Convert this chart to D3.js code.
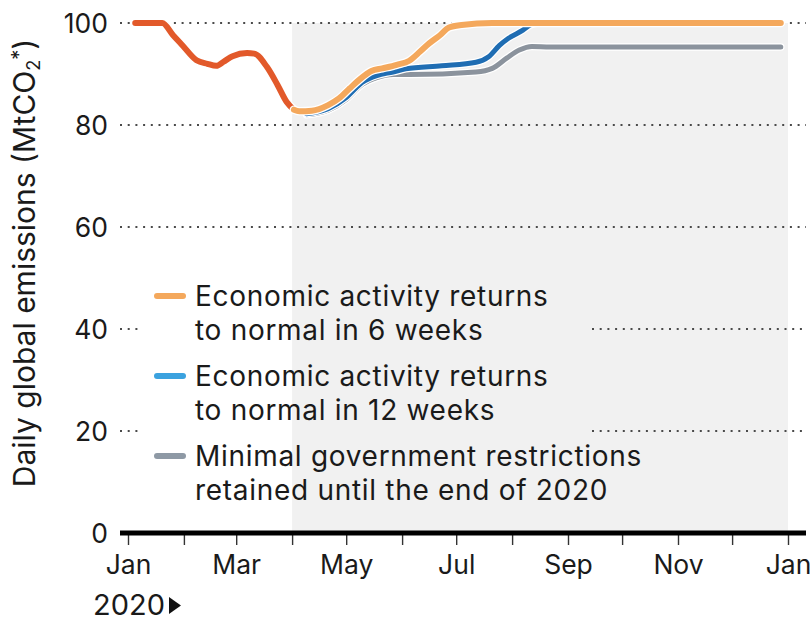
<!DOCTYPE html>
<html>
<head>
<meta charset="utf-8">
<script src="https://cdn.jsdelivr.net/npm/d3@7"></script>
<style>
  body { margin: 0; background: #fff; }
  svg { display: block; font-family: Inter, "Noto Sans", sans-serif; }
</style>
</head>
<body>
<svg id="chart" width="811" height="622"></svg>
<script>
// Daily global CO2 emissions, 2020: observed decline and three recovery scenarios.

// Observed emissions (Jan to early Apr)
const observedDates  = ["2020-01-05","2020-01-20","2020-01-26","2020-01-31","2020-02-08","2020-02-14","2020-02-19","2020-02-23","2020-02-28","2020-03-07","2020-03-11","2020-03-18","2020-03-24","2020-03-29","2020-04-02"];
const observedValues = [100, 100, 97.6, 95.7, 92.7, 92.0, 91.6, 92.4, 93.5, 94.1, 94.0, 91.4, 87.8, 84.5, 83.0];

// Scenario: economic activity returns to normal in 6 weeks
const sixWeekDates  = ["2020-04-02","2020-04-05","2020-04-12","2020-04-21","2020-04-27","2020-05-03","2020-05-08","2020-05-15","2020-05-21","2020-05-29","2020-06-05","2020-06-11","2020-06-16","2020-06-22","2020-06-27","2020-07-04","2020-07-21","2020-12-28"];
const sixWeekValues = [83.0, 82.7, 82.8, 83.9, 85.2, 87.2, 88.8, 90.6, 91.1, 91.8, 92.6, 94.4, 96.0, 97.6, 99.1, 99.6, 100, 100];

// Scenario: economic activity returns to normal in 12 weeks
const twelveWeekDates  = ["2020-04-09","2020-04-21","2020-05-01","2020-05-10","2020-05-18","2020-05-27","2020-06-03","2020-06-23","2020-07-12","2020-07-19","2020-07-25","2020-07-30","2020-08-07","2020-08-11","2020-08-16","2020-12-28"];
const twelveWeekValues = [82.2, 83.2, 85.4, 88.4, 89.7, 90.4, 91.0, 91.6, 92.3, 93.4, 95.6, 97.0, 98.6, 99.6, 100, 100];

// Scenario: minimal government restrictions retained until the end of 2020
const minimalDates  = ["2020-04-09","2020-04-21","2020-05-01","2020-05-10","2020-05-18","2020-05-27","2020-06-05","2020-07-12","2020-07-21","2020-07-29","2020-08-05","2020-08-12","2020-08-22","2020-12-28"];
const minimalValues = [82.0, 82.9, 85.0, 88.0, 89.3, 89.9, 89.9, 90.4, 91.1, 93.1, 94.7, 95.4, 95.3, 95.3];

// Axis ticks
const yTickValues = [0, 20, 40, 60, 80, 100];
const xTickLabels = ["Jan", "", "Mar", "", "May", "", "Jul", "", "Sep", "", "Nov", "", "Jan"];

// Legend text, one array of lines per scenario
const legendLines = [
  ["Economic activity returns", "to normal in 6 weeks"],
  ["Economic activity returns", "to normal in 12 weeks"],
  ["Minimal government restrictions", "retained until the end of 2020"]
];

const colors = {
  observed: "#e2592a",
  six: "#f4a85c",
  twelve: "#1f6db3",
  minimal: "#8b939d"
};
const legendColors = ["#f4a85c", "#3ba2df", "#8e99a5"];

const parse = d3.timeParse("%Y-%m-%d");
const toPoints = (dates, values) => dates.map((d, i) => ({ date: parse(d), value: values[i] }));

const svg = d3.select("#chart");

const x = d3.scaleTime()
  .domain([new Date(2020, 0, 1), new Date(2021, 0, 1)])
  .range([128, 788]);
const y = d3.scaleLinear().domain([0, 100]).range([533, 23]);

const gridLeft = 120, gridRight = 806;

// Shaded period: from April to the end of the year
svg.append("rect")
  .attr("x", x(new Date(2020, 3, 1)))
  .attr("y", y(100))
  .attr("width", x(new Date(2021, 0, 1)) - x(new Date(2020, 3, 1)))
  .attr("height", y(0) - y(100))
  .attr("fill", "#f1f1f1");

// Legend
const legend = svg.append("g").attr("class", "legend");
const legendTop = 296, itemGap = 80, lineGap = 34;
legendLines.forEach((lines, i) => {
  const cy = legendTop + i * itemGap;
  legend.append("line")
    .attr("x1", 157).attr("x2", 183)
    .attr("y1", cy).attr("y2", cy)
    .attr("stroke", legendColors[i])
    .attr("stroke-width", 6)
    .attr("stroke-linecap", "round");
  lines.forEach((t, j) => {
    legend.append("text")
      .attr("x", 195)
      .attr("y", cy + j * lineGap)
      .attr("dy", "0.36em")
      .attr("font-size", 28)
      .attr("letter-spacing", 0.7)
      .attr("fill", "#1a1a1a")
      .text(t);
  });
});

// Dotted horizontal gridlines; those crossing the legend are interrupted
const legendBox = { top: 280, bottom: 510, left: 138, right: 592 };
const grid = svg.insert("g", ".legend").attr("class", "grid");
yTickValues.filter(v => v > 0).forEach(v => {
  const yy = y(v);
  const segs = (yy > legendBox.top && yy < legendBox.bottom)
    ? [[gridLeft, legendBox.left], [legendBox.right, gridRight]]
    : [[gridLeft, gridRight]];
  segs.forEach(([a, b]) => {
    grid.append("line")
      .attr("x1", a).attr("x2", b)
      .attr("y1", yy).attr("y2", yy)
      .attr("stroke", "#4a4a4a")
      .attr("stroke-width", 2)
      .attr("stroke-dasharray", "2,5.7");
  });
});

// Y tick labels
svg.append("g").selectAll("text")
  .data(yTickValues)
  .join("text")
  .attr("x", 108)
  .attr("y", d => y(d))
  .attr("dy", "0.36em")
  .attr("text-anchor", "end")
  .attr("font-size", 26.5)
  .attr("fill", "#1a1a1a")
  .text(d => d);

// Y axis title with subscript and superscript
const title = svg.append("text")
  .attr("transform", "translate(35,263) rotate(-90)")
  .attr("text-anchor", "middle")
  .attr("font-size", 30)
  .attr("fill", "#1a1a1a");
title.append("tspan").text("Daily global emissions (MtCO");
title.append("tspan").attr("font-size", 18).attr("baseline-shift", "-25%").text("2");
title.append("tspan").attr("font-size", 20).attr("baseline-shift", "45%").text("*");
title.append("tspan").text(")");

// X axis: monthly ticks, labels every other month
const monthTicks = d3.timeMonth.range(new Date(2020, 0, 1), new Date(2021, 0, 2));
const xAxis = d3.axisBottom(x)
  .tickValues(monthTicks)
  .tickSize(12)
  .tickPadding(10)
  .tickFormat((d, i) => xTickLabels[i]);
const gx = svg.append("g")
  .attr("transform", `translate(0,${y(0)})`)
  .call(xAxis);
gx.select(".domain").remove();
gx.selectAll(".tick line").attr("stroke", "#333").attr("stroke-width", 1.4);
gx.selectAll(".tick text")
  .attr("font-size", 26.5)
  .attr("font-family", "Inter, 'Noto Sans', sans-serif")
  .attr("fill", "#1a1a1a");

// Heavy baseline
svg.append("line")
  .attr("x1", gridLeft).attr("x2", gridRight)
  .attr("y1", y(0)).attr("y2", y(0))
  .attr("stroke", "#000")
  .attr("stroke-width", 5);

// Year marker
const yearLabel = svg.append("text")
  .attr("x", 93).attr("y", 615)
  .attr("font-size", 29)
  .attr("fill", "#1a1a1a")
  .text("2020");
const yl = yearLabel.node().getBBox();
const tx = yl.x + yl.width + 4;
svg.append("path")
  .attr("d", d3.line()([[tx, 597], [tx + 12, 605.5], [tx, 614]]) + "Z")
  .attr("fill", "#111");

// Lines
const line = d3.line()
  .x(d => x(d.date))
  .y(d => y(d.value))
  .curve(d3.curveMonotoneX);

function drawSeries(points, color, width) {
  svg.append("path")
    .datum(points)
    .attr("d", line)
    .attr("fill", "none")
    .attr("stroke", "#fff")
    .attr("stroke-width", width + 2.5)
    .attr("stroke-linecap", "round")
    .attr("stroke-linejoin", "round");
  svg.append("path")
    .datum(points)
    .attr("d", line)
    .attr("fill", "none")
    .attr("stroke", color)
    .attr("stroke-width", width)
    .attr("stroke-linecap", "round")
    .attr("stroke-linejoin", "round");
}

drawSeries(toPoints(minimalDates, minimalValues), colors.minimal, 5);
drawSeries(toPoints(twelveWeekDates, twelveWeekValues), colors.twelve, 5);
drawSeries(toPoints(observedDates, observedValues), colors.observed, 6);
drawSeries(toPoints(sixWeekDates, sixWeekValues), colors.six, 6);
</script>
</body>
</html>
